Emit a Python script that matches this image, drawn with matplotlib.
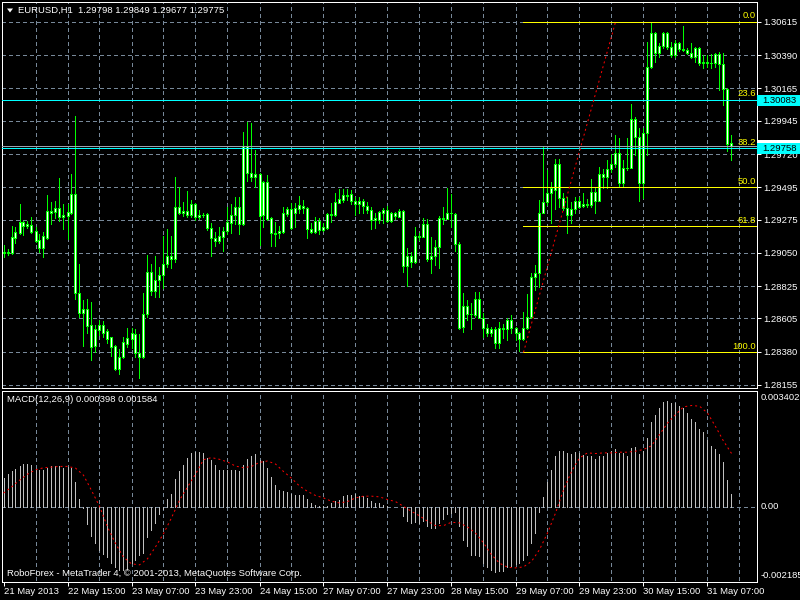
import numpy as np
import matplotlib
matplotlib.use("Agg")
import matplotlib.pyplot as plt
from matplotlib.patches import Rectangle, Polygon
from matplotlib.transforms import blended_transform_factory, offset_copy

plt.rcParams['font.family'] = ['Liberation Sans', 'DejaVu Sans']

# EURUSD H1 candles, bar 0 = 21 May 2013 23:00
opens = [1.29049, 1.29056, 1.29049, 1.29150, 1.29184, 1.29259, 1.29232, 1.29239, 1.29198, 1.29137,
         1.29082, 1.29150, 1.29334, 1.29327, 1.29354, 1.29293, 1.29300, 1.29320, 1.29448, 1.28777,
         1.28642, 1.28670, 1.28561, 1.28418, 1.28527, 1.28561, 1.28520, 1.28479, 1.28418, 1.28263,
         1.28344, 1.28431, 1.28466, 1.28499, 1.28371, 1.28344, 1.28635, 1.28920, 1.28791, 1.28866,
         1.28900, 1.28974, 1.29029, 1.29009, 1.29361, 1.29320, 1.29334, 1.29307, 1.29381, 1.29293,
         1.29307, 1.29313, 1.29218, 1.29150, 1.29130, 1.29157, 1.29198, 1.29252, 1.29307, 1.29361,
         1.29245, 1.29774, 1.29591, 1.29564, 1.29584, 1.29307, 1.29530, 1.29286, 1.29184, 1.29184,
         1.29191, 1.29313, 1.29348, 1.29320, 1.29348, 1.29368, 1.29354, 1.29212, 1.29191, 1.29266,
         1.29205, 1.29218, 1.29313, 1.29307, 1.29388, 1.29408, 1.29442, 1.29448, 1.29401, 1.29381,
         1.29401, 1.29368, 1.29341, 1.29273, 1.29273, 1.29320, 1.29341, 1.29266, 1.29320, 1.29293,
         1.29334, 1.28961, 1.29029, 1.28988, 1.29164, 1.29157, 1.29245, 1.29009, 1.29029, 1.29089,
         1.29286, 1.29280, 1.29320, 1.29313, 1.29109, 1.28547, 1.28690, 1.28635, 1.28629, 1.28737,
         1.28608, 1.28540, 1.28506, 1.28534, 1.28438, 1.28540, 1.28534, 1.28595, 1.28540, 1.28506,
         1.28466, 1.28540, 1.28615, 1.28886, 1.28913, 1.29320, 1.29395, 1.29455, 1.29476, 1.29652,
         1.29421, 1.29354, 1.29307, 1.29348, 1.29401, 1.29368, 1.29381, 1.29375, 1.29462, 1.29401,
         1.29584, 1.29564, 1.29619, 1.29652, 1.29727, 1.29523, 1.29625, 1.29625, 1.29958, 1.29835,
         1.29523, 1.29862, 1.30310, 1.30540, 1.30405, 1.30452, 1.30540, 1.30445, 1.30392, 1.30472,
         1.30432, 1.30425, 1.30405, 1.30378, 1.30439, 1.30337, 1.30344, 1.30337, 1.30337, 1.30398,
         1.30330, 1.30161, 1.29798]
highs = [1.29103, 1.29076, 1.29232, 1.29225, 1.29381, 1.29266, 1.29266, 1.29293, 1.29225, 1.29177,
         1.29191, 1.29442, 1.29395, 1.29401, 1.29557, 1.29381, 1.29381, 1.29584, 1.29978, 1.28974,
         1.28730, 1.28737, 1.28717, 1.28561, 1.28595, 1.28588, 1.28534, 1.28482, 1.28425, 1.28398,
         1.28479, 1.28540, 1.28540, 1.28534, 1.28499, 1.28777, 1.29036, 1.28974, 1.29029, 1.28954,
         1.29164, 1.29212, 1.29164, 1.29564, 1.29496, 1.29395, 1.29469, 1.29408, 1.29385, 1.29341,
         1.29320, 1.29320, 1.29252, 1.29191, 1.29225, 1.29225, 1.29361, 1.29381, 1.29428, 1.29428,
         1.29869, 1.29937, 1.29930, 1.29747, 1.29588, 1.29535, 1.29578, 1.29293, 1.29259, 1.29232,
         1.29361, 1.29361, 1.29388, 1.29388, 1.29435, 1.29408, 1.29361, 1.29252, 1.29293, 1.29286,
         1.29252, 1.29320, 1.29388, 1.29455, 1.29483, 1.29483, 1.29483, 1.29476, 1.29428, 1.29428,
         1.29415, 1.29395, 1.29361, 1.29320, 1.29334, 1.29354, 1.29368, 1.29327, 1.29327, 1.29348,
         1.29338, 1.29082, 1.29056, 1.29225, 1.29184, 1.29286, 1.29280, 1.29157, 1.29137, 1.29300,
         1.29361, 1.29489, 1.29448, 1.29320, 1.29123, 1.28777, 1.28730, 1.28710, 1.28784, 1.28784,
         1.28642, 1.28567, 1.28547, 1.28547, 1.28581, 1.28567, 1.28608, 1.28629, 1.28547, 1.28510,
         1.28649, 1.28770, 1.28913, 1.28968, 1.29408, 1.29767, 1.29612, 1.29530, 1.29687, 1.29687,
         1.29455, 1.29428, 1.29395, 1.29428, 1.29428, 1.29455, 1.29415, 1.29551, 1.29496, 1.29632,
         1.29619, 1.29680, 1.29720, 1.29849, 1.29829, 1.29680, 1.29829, 1.30059, 1.29971, 1.29896,
         1.29896, 1.30479, 1.30608, 1.30544, 1.30472, 1.30544, 1.30544, 1.30479, 1.30493, 1.30479,
         1.30588, 1.30439, 1.30472, 1.30445, 1.30445, 1.30391, 1.30391, 1.30398, 1.30405, 1.30412,
         1.30405, 1.30168, 1.29849]
lows = [1.29022, 1.29036, 1.29042, 1.29116, 1.29180, 1.29171, 1.29218, 1.29184, 1.29123, 1.29056,
        1.29022, 1.29145, 1.29245, 1.29286, 1.29266, 1.29212, 1.29144, 1.29315, 1.28737, 1.28615,
        1.28418, 1.28506, 1.28324, 1.28378, 1.28493, 1.28479, 1.28438, 1.28351, 1.28256, 1.28228,
        1.28337, 1.28411, 1.28404, 1.28344, 1.28201, 1.28340, 1.28615, 1.28764, 1.28750, 1.28750,
        1.28811, 1.28954, 1.28947, 1.28988, 1.29313, 1.29300, 1.29293, 1.29293, 1.29273, 1.29280,
        1.29293, 1.29205, 1.29029, 1.29096, 1.29116, 1.29062, 1.29177, 1.29184, 1.29245, 1.29177,
        1.29240, 1.29537, 1.29537, 1.29496, 1.29103, 1.29225, 1.29273, 1.29096, 1.29096, 1.29150,
        1.29184, 1.29300, 1.29214, 1.29225, 1.29320, 1.29320, 1.29150, 1.29184, 1.29184, 1.29177,
        1.29198, 1.29214, 1.29259, 1.29303, 1.29385, 1.29395, 1.29408, 1.29381, 1.29307, 1.29320,
        1.29320, 1.29320, 1.29212, 1.29218, 1.29252, 1.29252, 1.29259, 1.29259, 1.29280, 1.29290,
        1.28920, 1.28825, 1.28954, 1.28981, 1.29137, 1.29154, 1.28995, 1.28913, 1.28968, 1.28947,
        1.29245, 1.29276, 1.29225, 1.29062, 1.28536, 1.28513, 1.28595, 1.28534, 1.28615, 1.28605,
        1.28479, 1.28486, 1.28486, 1.28404, 1.28404, 1.28472, 1.28459, 1.28506, 1.28459, 1.28382,
        1.28462, 1.28536, 1.28611, 1.28798, 1.28818, 1.29317, 1.29375, 1.29252, 1.29348, 1.29361,
        1.29341, 1.29184, 1.29252, 1.29320, 1.29354, 1.29361, 1.29361, 1.29361, 1.29320, 1.29398,
        1.29489, 1.29489, 1.29598, 1.29632, 1.29496, 1.29496, 1.29612, 1.29622, 1.29714, 1.29401,
        1.29421, 1.29714, 1.30306, 1.30344, 1.30378, 1.30438, 1.30432, 1.30378, 1.30378, 1.30418,
        1.30418, 1.30398, 1.30371, 1.30344, 1.30324, 1.30303, 1.30310, 1.30303, 1.30310, 1.30154,
        1.30053, 1.29740, 1.29677]
closes = [1.29056, 1.29049, 1.29157, 1.29191, 1.29259, 1.29232, 1.29245, 1.29191, 1.29130, 1.29082,
          1.29164, 1.29334, 1.29320, 1.29354, 1.29293, 1.29307, 1.29327, 1.29448, 1.28777, 1.28642,
          1.28670, 1.28554, 1.28411, 1.28534, 1.28561, 1.28506, 1.28466, 1.28411, 1.28263, 1.28344,
          1.28445, 1.28472, 1.28506, 1.28371, 1.28344, 1.28635, 1.28920, 1.28791, 1.28866, 1.28900,
          1.28974, 1.29029, 1.29009, 1.29361, 1.29320, 1.29334, 1.29307, 1.29381, 1.29293, 1.29307,
          1.29304, 1.29218, 1.29150, 1.29130, 1.29164, 1.29198, 1.29259, 1.29307, 1.29361, 1.29245,
          1.29774, 1.29591, 1.29564, 1.29584, 1.29300, 1.29530, 1.29280, 1.29184, 1.29180, 1.29198,
          1.29320, 1.29348, 1.29218, 1.29354, 1.29375, 1.29354, 1.29212, 1.29191, 1.29266, 1.29205,
          1.29225, 1.29313, 1.29307, 1.29395, 1.29415, 1.29442, 1.29438, 1.29401, 1.29381, 1.29401,
          1.29368, 1.29341, 1.29273, 1.29286, 1.29327, 1.29341, 1.29266, 1.29320, 1.29300, 1.29334,
          1.28961, 1.29029, 1.28988, 1.29164, 1.29157, 1.29245, 1.29009, 1.29029, 1.29089, 1.29286,
          1.29280, 1.29320, 1.29317, 1.29109, 1.28540, 1.28690, 1.28635, 1.28632, 1.28737, 1.28608,
          1.28540, 1.28506, 1.28534, 1.28438, 1.28540, 1.28534, 1.28595, 1.28540, 1.28506, 1.28466,
          1.28540, 1.28615, 1.28886, 1.28913, 1.29320, 1.29395, 1.29455, 1.29489, 1.29652, 1.29421,
          1.29354, 1.29307, 1.29348, 1.29401, 1.29361, 1.29381, 1.29375, 1.29462, 1.29401, 1.29584,
          1.29564, 1.29619, 1.29652, 1.29727, 1.29523, 1.29625, 1.29622, 1.29958, 1.29835, 1.29523,
          1.29862, 1.30310, 1.30540, 1.30405, 1.30452, 1.30540, 1.30445, 1.30392, 1.30472, 1.30432,
          1.30425, 1.30405, 1.30378, 1.30439, 1.30337, 1.30344, 1.30337, 1.30334, 1.30398, 1.30330,
          1.30161, 1.29787, 1.29775]

# MACD(12,26,9) main line, one value per bar
macd = [0.00086, 0.00099, 0.00106, 0.00113, 0.00120, 0.00126, 0.00128, 0.00125, 0.00113, 0.00110,
        0.00108, 0.00116, 0.00120, 0.00121, 0.00120, 0.00116, 0.00118, 0.00116, 0.00074, 0.00025,
        -0.00002, -0.00049, -0.00087, -0.00106, -0.00128, -0.00138, -0.00148, -0.00166, -0.00177, -0.00185,
        -0.00187, -0.00182, -0.00166, -0.00156, -0.00143, -0.00136, -0.00089, -0.00069, -0.00047, -0.00020,
        -0.00005, 0.00025, 0.00039, 0.00084, 0.00106, 0.00123, 0.00146, 0.00160, 0.00163, 0.00163,
        0.00160, 0.00146, 0.00138, 0.00123, 0.00110, 0.00108, 0.00108, 0.00110, 0.00108, 0.00106,
        0.00123, 0.00143, 0.00150, 0.00156, 0.00138, 0.00135, 0.00116, 0.00088, 0.00065, 0.00050,
        0.00047, 0.00044, 0.00037, 0.00036, 0.00036, 0.00036, 0.00025, 0.00012, 0.00007, 0.00002,
        0.00002, 0.00004, 0.00012, 0.00017, 0.00022, 0.00033, 0.00036, 0.00035, 0.00038, 0.00033,
        0.00033, 0.00027, 0.00017, 0.00012, 0.00012, 0.00007, 0.00002, 0.00001, 0.00001, 0.00001,
        -0.00026, -0.00042, -0.00047, -0.00045, -0.00047, -0.00042, -0.00057, -0.00062, -0.00062, -0.00047,
        -0.00035, -0.00020, -0.00018, -0.00016, -0.00057, -0.00097, -0.00116, -0.00141, -0.00141, -0.00146,
        -0.00166, -0.00177, -0.00185, -0.00193, -0.00190, -0.00188, -0.00178, -0.00174, -0.00168, -0.00166,
        -0.00156, -0.00141, -0.00106, -0.00077, -0.00016, 0.00030, 0.00075, 0.00110, 0.00152, 0.00165,
        0.00167, 0.00160, 0.00158, 0.00162, 0.00160, 0.00155, 0.00150, 0.00150, 0.00143, 0.00152,
        0.00152, 0.00160, 0.00165, 0.00172, 0.00160, 0.00160, 0.00152, 0.00174, 0.00177, 0.00158,
        0.00165, 0.00204, 0.00251, 0.00273, 0.00293, 0.00310, 0.00312, 0.00307, 0.00307, 0.00300,
        0.00293, 0.00278, 0.00260, 0.00251, 0.00231, 0.00221, 0.00199, 0.00181, 0.00171, 0.00158,
        0.00132, 0.00081, 0.000398]

# signal line, read at every second bar (0, 2, ..., 182)
signal = [0.00041, 0.00059, 0.00079, 0.00097, 0.00110, 0.00116, 0.00118, 0.00120, 0.00120, 0.00115,
          0.00094, 0.00049, 0.00002, -0.00059, -0.00108, -0.00148, -0.00168, -0.00171, -0.00153, -0.00118,
          -0.00079, -0.00032, 0.00020, 0.00059, 0.00097, 0.00140, 0.00146, 0.00141, 0.00133, 0.00121,
          0.00116, 0.00120, 0.00132, 0.00136, 0.00127, 0.00105, 0.00085, 0.00062, 0.00046, 0.00034,
          0.00027, 0.00017, 0.00012, 0.00016, 0.00027, 0.00032, 0.00032, 0.00030, 0.00022, 0.00016,
          0.00002, -0.00013, -0.00026, -0.00042, -0.00055, -0.00055, -0.00045, -0.00047, -0.00059, -0.00077,
          -0.00106, -0.00141, -0.00166, -0.00178, -0.00180, -0.00177, -0.00161, -0.00126, -0.00077, -0.00018,
          0.00051, 0.00105, 0.00145, 0.00160, 0.00158, 0.00160, 0.00160, 0.00162, 0.00162, 0.00165,
          0.00170, 0.00181, 0.00214, 0.00248, 0.00273, 0.00296, 0.00300, 0.00298, 0.00278, 0.00238,
          0.00195, 0.001584]

price_ticks = [1.30615, 1.30390, 1.30165, 1.29945, 1.29720, 1.29495,
               1.29275, 1.29050, 1.28825, 1.28605, 1.28380, 1.28155]
time_bars = [0, 16, 32, 48, 64, 80, 96, 112, 128, 144, 160, 176]
time_labels = ['21 May 2013', '22 May 15:00', '23 May 07:00', '23 May 23:00',
               '24 May 15:00', '27 May 07:00', '27 May 23:00', '28 May 15:00',
               '29 May 07:00', '29 May 23:00', '30 May 15:00', '31 May 07:00']

# fibonacci retracement drawn from the 29 May low to the 30 May high
fib_bars = [130, 153]
fib_prices = [1.28375, 1.30615]
fib_levels = [0.0, 23.6, 38.2, 50.0, 61.8, 100.0]
hlines_cyan = [1.30083, 1.29758]
bid = 1.29775

W, H = 800, 600
PX = 0.72  # one pixel in points
GREEN = '#00FF00'
GRID = '#778899'
CYAN = '#00FFFF'
FS = 6.8

fig = plt.figure(figsize=(8, 6), dpi=100, facecolor='black')


def rect(l, t, r, b):
    return [l / W, 1 - b / H, (r - l) / W, (b - t) / H]


ax = fig.add_axes(rect(2, 2, 757, 388))
ax2 = fig.add_axes(rect(2, 391, 757, 582))
# bar 0 sits on the centre of pixel column 3, 4 px per bar
xlim = (-0.375, 188.375)
for a in (ax, ax2):
    a.set_facecolor('black')
    a.set_xlim(*xlim)
    for s in a.spines.values():
        s.set_color('white')
        s.set_linewidth(PX)
        s.set_antialiased(False)

ax.set_ylim(1.281335, 1.307506)
ax2.set_ylim(-0.002217, 0.003429)

idx = np.arange(len(closes))
o = np.array(opens)
c = np.array(closes)

# grid
dash = (0, (4, 3))
vgrid = np.arange(8, 189, 8)
ax.hlines(price_ticks, xlim[0], xlim[1], colors=GRID, lw=PX, linestyles=[dash], antialiased=False, zorder=1)
ax.vlines(vgrid, 1.281335, 1.307506, colors=GRID, lw=PX, linestyles=[dash], antialiased=False, zorder=1)
ax2.vlines(vgrid, -0.003, 0.004, colors=GRID, lw=PX, linestyles=[dash], antialiased=False, zorder=1)
ax2.hlines([0], xlim[0], xlim[1], colors=GRID, lw=PX, linestyles=[dash], antialiased=False, zorder=1)

# candles: 1 px wick, 3 px body with green outline and white core
ax.vlines(idx, lows, highs, colors=GREEN, lw=PX, antialiased=False, zorder=3)
ax.bar(idx, np.abs(c - o), bottom=np.minimum(o, c), width=0.5, color='white',
       edgecolor=GREEN, linewidth=PX, antialiased=False, zorder=4)

# objects
ax.hlines([bid], xlim[0], xlim[1], colors='#9AA3B0', lw=PX, antialiased=False, zorder=5)
fib_lo, fib_hi = fib_prices
fib_vals = [fib_hi - lv / 100 * (fib_hi - fib_lo) for lv in fib_levels]
ax.hlines(fib_vals, fib_bars[0], xlim[1], colors='yellow', lw=PX, antialiased=False, zorder=5)
ax.hlines(hlines_cyan, xlim[0], xlim[1], colors=CYAN, lw=PX, antialiased=False, zorder=6)
ax.plot(fib_bars, fib_prices, color='red', lw=PX, linestyle=(0, (2, 3)), zorder=6)

bt = blended_transform_factory(ax.transAxes, ax.transData)
bt = offset_copy(bt, fig=fig, y=1.5, units='dots')
for lv, val in zip(fib_levels, fib_vals):
    ax.text((756 - 2) / 755, val, '%.1f' % lv, transform=bt, ha='right', va='bottom',
            color='yellow', fontsize=FS, zorder=7)

# price scale
ax.yaxis.tick_right()
ax.set_yticks(price_ticks)
ax.set_yticklabels(['%.5f' % p for p in price_ticks])
ax.tick_params(axis='y', colors='white', length=4 * PX, width=PX, pad=2 * PX, labelsize=FS)
ax.set_xticks([])

# MACD
ax2.vlines(idx, 0, macd, colors='#C0C0C0', lw=PX, antialiased=False, zorder=3)
ax2.plot(idx[::2], signal, color='red', lw=PX, linestyle=(0, (2, 3)), zorder=4)
ax2.set_yticks([])
ax2.set_xticks(time_bars)
ax2.set_xticklabels(time_labels, ha='left')
ax2.tick_params(axis='x', colors='white', length=4 * PX, width=PX, pad=1.5 * PX, labelsize=FS)

# label boxes on the price scale (the bid box sits under the cyan one)
fig.canvas.draw()


def price_box(price, fc, txt=None, z=5):
    y = ax.transData.transform((0, price))[1]
    fig.add_artist(Rectangle((757 / W, (y - 5.5) / H), 43 / W, 11 / H, transform=fig.transFigure,
                             fc=fc, ec='none', zorder=z))
    if txt:
        fig.text(762 / W, y / H, txt, color='black', va='center', ha='left', fontsize=FS, zorder=z + 0.5)


price_box(bid, 'white', None, z=4)
for p in hlines_cyan:
    price_box(p, CYAN, '%.5f' % p, z=5)

# texts
fig.add_artist(Polygon([[7 / W, 1 - 8.5 / H], [13 / W, 1 - 8.5 / H], [10 / W, 1 - 12.5 / H]],
                       closed=True, transform=fig.transFigure, fc='white', ec='none'))
fig.text(18 / W, 1 - 10.5 / H, 'EURUSD,H1  %.5f %.5f %.5f %.5f' % (opens[-1], highs[-1], lows[-1], closes[-1]),
         color='white', va='center', fontsize=FS)
fig.text(7 / W, 1 - 399.5 / H, 'MACD(12,26,9) %.6f %.6f' % (macd[-1], signal[-1]),
         color='white', va='center', fontsize=FS)
fig.text(7 / W, 1 - 574 / H, 'RoboForex - MetaTrader 4, \u00a9 2001-2013, MetaQuotes Software Corp.',
         color='white', va='center', fontsize=FS)
fig.text(761 / W, 1 - 397 / H, '0.003402', color='white', va='center', fontsize=FS)
fig.text(761 / W, 1 - 506.5 / H, '0.00', color='white', va='center', fontsize=FS)
fig.text(761 / W, 1 - 576 / H, '-0.002185', color='white', va='center', fontsize=FS)

fig.savefig('out.png', dpi=100, facecolor='black')
